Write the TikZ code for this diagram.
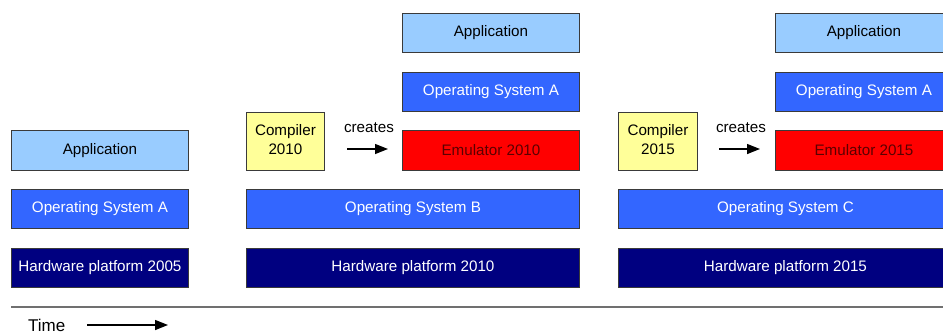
\documentclass[tikz,border=0pt]{standalone}
\usepackage{fontspec}
\setmainfont{Liberation Sans}
\usetikzlibrary{arrows.meta}
\definecolor{appblue}{HTML}{99CCFF}
\definecolor{osblue}{HTML}{3366FF}
\definecolor{hwnavy}{HTML}{000080}
\definecolor{emured}{HTML}{FF0000}
\definecolor{emutext}{HTML}{5A0000}
\definecolor{compyellow}{HTML}{FFFF99}
\definecolor{edgegray}{HTML}{3A3A3A}
\definecolor{rulegray}{HTML}{707070}
\newcommand{\twolines}[2]{\raisebox{3.5pt}{\begin{tabular}{@{}c@{}}#1\\#2\end{tabular}}}
\tikzset{
  layer/.style={draw=edgegray, line width=0.9pt, anchor=north west, inner sep=0pt,
    font=\fontsize{15.2}{18.5}\selectfont, align=center},
  app/.style={layer, fill=appblue, text=black},
  os/.style={layer, fill=osblue, text=white},
  hw/.style={layer, fill=hwnavy, text=white},
  emu/.style={layer, fill=emured, text=emutext},
  comp/.style={layer, fill=compyellow, text=black},
  lbl/.style={font=\fontsize{15.2}{18}\selectfont, inner sep=0pt},
  flow/.style={line width=1.4pt, -{Triangle[length=13pt, width=10pt]}},
}
\begin{document}
\begin{tikzpicture}[x=1pt, y=-1pt]
\clip (0,0) rectangle (943,333);
\fill[white] (0,0) rectangle (943,333);

% 2005: application on OS A on hardware
\node[app, minimum width=177pt, minimum height=40pt] (app05) at (11,130) {Application};
\node[os,  minimum width=177pt, minimum height=39pt] (os05)  at (11,189) {Operating System A};
\node[hw,  minimum width=177pt, minimum height=39pt] (hw05)  at (11,248) {Hardware platform 2005};

% 2010: emulator built by the compiler runs OS A
\node[comp, minimum width=78pt, minimum height=58pt] (comp10) at (246,112) {\twolines{Compiler}{2010}};
\node[app, minimum width=177pt, minimum height=39pt] (app10)  at (402,13)  {Application};
\node[os,  minimum width=177pt, minimum height=39pt] (osa10)  at (402,72)  {Operating System A};
\node[emu, minimum width=177pt, minimum height=40pt] (emu10)  at (402,130) {Emulator 2010};
\node[os,  minimum width=333pt, minimum height=39pt] (os10)   at (246,189) {Operating System B};
\node[hw,  minimum width=333pt, minimum height=39pt] (hw10)   at (246,248) {Hardware platform 2010};
\node[lbl] (cr10) at (369,128) {creates};
\coordinate (cr10s) at (347,149);
\coordinate (cr10e) at (388,149);
\draw[flow] (cr10s) -- (cr10e);

% 2015: the same stack one generation later
\node[comp, minimum width=79pt, minimum height=58pt] (comp15) at (618,112) {\twolines{Compiler}{2015}};
\node[app, minimum width=177pt, minimum height=39pt] (app15)  at (775,13)  {Application};
\node[os,  minimum width=177pt, minimum height=39pt] (osa15)  at (775,72)  {Operating System A};
\node[emu, minimum width=177pt, minimum height=40pt] (emu15)  at (775,130) {Emulator 2015};
\node[os,  minimum width=334pt, minimum height=39pt] (os15)   at (618,189) {Operating System C};
\node[hw,  minimum width=334pt, minimum height=39pt] (hw15)   at (618,248) {Hardware platform 2015};
\node[lbl] (cr15) at (741,128) {creates};
\coordinate (cr15s) at (719,149);
\coordinate (cr15e) at (760,149);
\draw[flow] (cr15s) -- (cr15e);

% time axis
\coordinate (axl) at (11,307);
\coordinate (axr) at (943,307);
\draw[rulegray, line width=1.6pt] (axl) -- (axr);
\node[lbl, anchor=west, font=\fontsize{17}{20}\selectfont] (time) at (28,325) {Time};
\coordinate (ts) at (87,325);
\coordinate (te) at (168,325);
\draw[flow] (ts) -- (te);
\end{tikzpicture}
\end{document}
